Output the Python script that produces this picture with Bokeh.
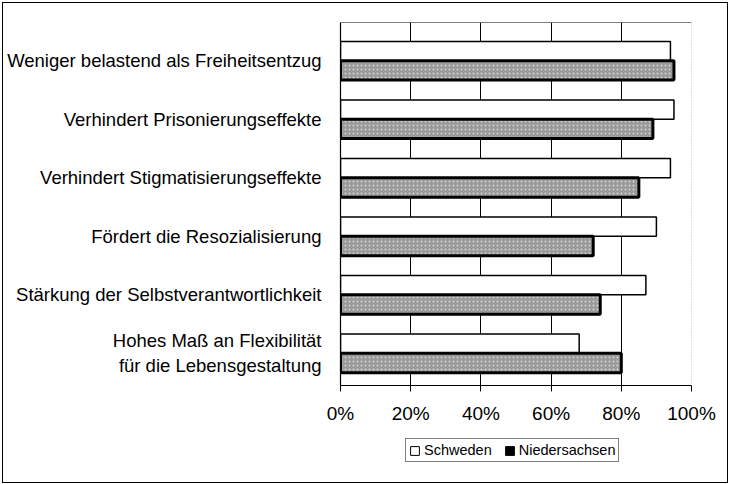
from bokeh.plotting import figure
from bokeh.layouts import column
from bokeh.models import (Range1d, FixedTicker, NumeralTickFormatter, Span, Legend,
                          LegendItem, ColumnDataSource)
from bokeh.embed import file_html
from bokeh.resources import INLINE

# ---------------- data ----------------
categories = [
    "Weniger belastend als Freiheitsentzug",
    "Verhindert Prisonierungseffekte",
    "Verhindert Stigmatisierungseffekte",
    "Fördert die Resozialisierung",
    "Stärkung der Selbstverantwortlichkeit",
    "Hohes Maß an Flexibilität\nfür die Lebensgestaltung",
]
schweden = [0.94, 0.95, 0.94, 0.90, 0.87, 0.68]
niedersachsen = [0.95, 0.89, 0.85, 0.72, 0.74, 0.80]
series_names = ["Schweden", "Niedersachsen"]
x_ticks = [0.0, 0.2, 0.4, 0.6, 0.8, 1.0]

FONT = "Liberation Sans"
BAR_H = 0.33
W = 724

pos = list(range(len(categories)))
src = ColumnDataSource(dict(
    pos=pos,
    s=schweden,
    n=niedersachsen,
    ys=[k - BAR_H / 2 for k in pos],
    yn=[k + BAR_H / 2 for k in pos],
))

p = figure(width=W, height=430, output_backend="svg", toolbar_location=None,
           x_range=Range1d(0, 1), y_range=Range1d(5.55, -0.655),
           min_border_left=337, min_border_right=36, min_border_top=19,
           min_border_bottom=48)
p.outline_line_color = None
p.background_fill_color = "white"
p.border_fill_color = "white"

# grid
p.ygrid.visible = False
p.xgrid.ticker = FixedTicker(ticks=x_ticks[1:-1])
p.xgrid.grid_line_color = "black"
p.xgrid.grid_line_width = 1

# bars
p.hbar(y="ys", right="s", left=0, height=BAR_H, source=src,
       fill_color="white", line_color="black", line_width=1.5)
p.hbar(y="yn", right="n", left=0, height=BAR_H, source=src,
       fill_color="#9a9a9a", line_color="black", line_width=3,
       hatch_pattern="dot", hatch_color="#ffffff", hatch_scale=4, hatch_alpha=0.55)

# frame borders
p.add_layout(Span(location=p.y_range.end, dimension="width",
                  line_color="black", line_width=1.2))
p.add_layout(Span(location=p.x_range.end, dimension="height",
                  line_color="#888888", line_width=1, line_dash="1 2"))

# x axis
p.xaxis.ticker = FixedTicker(ticks=x_ticks)
p.xaxis.formatter = NumeralTickFormatter(format="0%")
p.xaxis.axis_line_color = "black"
p.xaxis.axis_line_width = 1.2
p.xaxis.major_tick_out = 6
p.xaxis.major_tick_in = 0
p.xaxis.minor_tick_line_color = None
p.xaxis.major_tick_line_color = "black"
p.xaxis.major_label_standoff = 11
p.xaxis.major_label_text_font = FONT
p.xaxis.major_label_text_font_size = "19px"
p.xaxis.major_label_text_color = "black"

# y axis
p.yaxis.ticker = FixedTicker(ticks=pos)
p.yaxis.major_label_overrides = {k: c for k, c in zip(pos, categories)}
p.yaxis.axis_line_color = "black"
p.yaxis.axis_line_width = 1.2
p.yaxis.major_tick_line_color = None
p.yaxis.minor_tick_line_color = None
p.yaxis.major_tick_out = 0
p.yaxis.major_tick_in = 0
p.yaxis.major_label_standoff = 19
p.yaxis.major_label_text_font = FONT
p.yaxis.major_label_text_font_size = "18.5px"
p.yaxis.major_label_text_color = "black"
p.yaxis.major_label_text_align = "right"

# legend strip (own figure; its bars lie far outside its visible range)
lf = figure(width=W, height=49, output_backend="svg", toolbar_location=None,
            x_range=Range1d(100, 101), y_range=Range1d(100, 101),
            x_axis_type=None, y_axis_type=None,
            min_border_left=337, min_border_right=36, min_border_top=0, min_border_bottom=0)
lf.outline_line_color = None
lf.grid.visible = False
lf.background_fill_color = "white"
lf.border_fill_color = "white"
l_s = lf.hbar(y="ys", right="s", left=0, height=BAR_H, source=src,
              fill_color="white", line_color="black", line_width=1)
l_n = lf.hbar(y="yn", right="n", left=0, height=BAR_H, source=src,
              fill_color="black", line_color="black", line_width=1)
legend = Legend(items=[LegendItem(label=series_names[0], renderers=[l_s], index=0),
                       LegendItem(label=series_names[1], renderers=[l_n], index=0)],
                orientation="horizontal", location=(65, 20))
legend.label_text_font = FONT
legend.label_text_font_size = "14.5px"
legend.label_text_color = "black"
legend.glyph_width = 11
legend.glyph_height = 11
legend.label_standoff = 4
legend.spacing = 12
legend.padding = 3
legend.margin = 0
legend.label_height = 14
legend.border_line_color = "black"
legend.border_line_width = 1
legend.background_fill_color = "white"
legend.inactive_fill_alpha = 0
lf.add_layout(legend, "center")

layout = column(p, lf, spacing=0,
                styles={"border": "1px solid black", "margin": "2px 0 0 2px"})

open("out.html", "w").write(file_html(layout, INLINE))
